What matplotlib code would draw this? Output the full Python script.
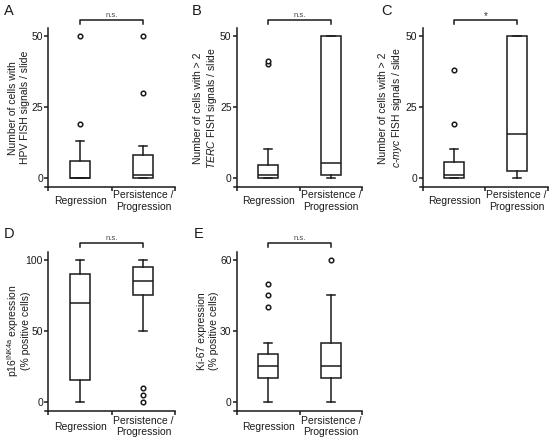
import matplotlib
matplotlib.use('Agg')
import matplotlib.pyplot as plt
import matplotlib.transforms as mtransforms

plt.rcParams['font.family'] = ['Liberation Sans', 'DejaVu Sans']
plt.rcParams['font.size'] = 7.5
plt.rcParams['mathtext.fontset'] = 'custom'
plt.rcParams['mathtext.rm'] = 'Liberation Sans'
plt.rcParams['mathtext.it'] = 'Liberation Sans:italic'

categories = ['Regression', 'Persistence /\nProgression']

# Panel A: HPV FISH
a_q1 = [0, 0]
a_med = [0, 1]
a_q3 = [6, 8]
a_lo = [0, 0]
a_hi = [13, 11]
a_fliers = [[19, 50], [30, 50]]

# Panel B: TERC
b_q1 = [0, 1]
b_med = [1, 5]
b_q3 = [4.5, 50]
b_lo = [0, 0]
b_hi = [10, 50]
b_fliers = [[40, 41], []]

# Panel C: c-myc
c_q1 = [0, 2.3]
c_med = [1, 15.5]
c_q3 = [5.5, 50]
c_lo = [0, 0]
c_hi = [10, 50]
c_fliers = [[19, 38], []]

# Panel D: p16INK4a
d_q1 = [15, 75]
d_med = [70, 85]
d_q3 = [90, 95]
d_lo = [0, 50]
d_hi = [100, 100]
d_fliers = [[], [0, 5, 10]]

# Panel E: Ki-67
e_q1 = [10, 10]
e_med = [15, 15]
e_q3 = [20, 25]
e_lo = [0, 0]
e_hi = [25, 45]
e_fliers = [[40, 45, 50], [60]]

sig_labels = ['n.s.', 'n.s.', '*', 'n.s.', 'n.s.']
yticks_list = [[0, 25, 50], [0, 25, 50], [0, 25, 50], [0, 50, 100], [0, 30, 60]]
ylabels = [
    'Number of cells with\nHPV FISH signals / slide',
    'Number of cells with > 2\n$\\it{TERC}$ FISH signals / slide',
    'Number of cells with > 2\n$\\it{c}$-$\\it{myc}$ FISH signals / slide',
    'p16$^{\\rm INK4a}$ expression\n(% positive cells)',
    'Ki-67 expression\n(% positive cells)',
]
panel_letters = ['A', 'B', 'C', 'D', 'E']

data = [
    (a_q1, a_med, a_q3, a_lo, a_hi, a_fliers),
    (b_q1, b_med, b_q3, b_lo, b_hi, b_fliers),
    (c_q1, c_med, c_q3, c_lo, c_hi, c_fliers),
    (d_q1, d_med, d_q3, d_lo, d_hi, d_fliers),
    (e_q1, e_med, e_q3, e_lo, e_hi, e_fliers),
]

W, H = 550, 440
# (left, right, top, bottom) in pixels
rects = [
    (45.3, 175, 28.3, 187.3),
    (234, 362, 28.3, 187.3),
    (419.7, 548, 28.3, 187.3),
    (45.3, 175, 251.7, 410.7),
    (234, 362, 251.7, 410.7),
]
ylims = [(-3.4, 52.7), (-3.4, 52.7), (-3.4, 52.7), (-6.35, 105.9), (-3.8, 63.5)]
letter_pos = [(4, 4), (192, 4), (381, 4), (4, 227), (194, 227)]
xpads = [10, 10, 10, 11.5, 11.5]
ylabelpads = [1, 1, 1, -4, 1]
ylinespacing = [1.2, 1.2, 1.2, 1.0, 1.2]

fig = plt.figure(figsize=(5.5, 4.4), dpi=100)
lw = 1.1
ink = '#1a1a1a'

for i in range(5):
    l, r, t, b = rects[i]
    ax = fig.add_axes([l / W, 1 - b / H, (r - l) / W, (b - t) / H])
    q1, med, q3, lo, hi, fl = data[i]
    stats = []
    for j in range(2):
        stats.append(dict(med=med[j], q1=q1[j], q3=q3[j], whislo=lo[j],
                          whishi=hi[j], fliers=fl[j], label=categories[j]))
    ax.bxp(stats, positions=[1, 2], widths=0.32, capwidths=0.13,
           patch_artist=True, manage_ticks=False,
           boxprops=dict(facecolor='white', edgecolor=ink, linewidth=lw),
           medianprops=dict(color=ink, linewidth=lw),
           whiskerprops=dict(color=ink, linewidth=lw),
           capprops=dict(color=ink, linewidth=lw),
           flierprops=dict(marker='o', markersize=3.3, markerfacecolor='white',
                           markeredgecolor=ink, markeredgewidth=1.1))
    ax.set_xlim(0.45, 2.5)
    ax.set_ylim(*ylims[i])
    for s in ['top', 'right']:
        ax.spines[s].set_visible(False)
    ax.spines['left'].set_position(('data', 0.5))
    for s in ['left', 'bottom']:
        ax.spines[s].set_linewidth(lw)
        ax.spines[s].set_color(ink)
    ax.set_yticks(yticks_list[i])
    ax.tick_params(axis='y', length=3, width=lw, pad=1, color=ink, labelcolor=ink)
    ax.set_xticks([1, 2])
    ax.set_xticklabels(categories, va='center', multialignment='center', color=ink)
    ax.tick_params(axis='x', which='major', length=0, pad=xpads[i])
    ax.set_xticks([0.5, 1.5, 2.5], minor=True)
    ax.tick_params(axis='x', which='minor', length=3, width=lw, color=ink, direction='out')
    ax.set_ylabel(ylabels[i], labelpad=ylabelpads[i], color=ink,
                  linespacing=ylinespacing[i])

    trans = mtransforms.blended_transform_factory(ax.transData, ax.transAxes)
    ax.plot([1, 1, 2, 2], [1.027, 1.052, 1.052, 1.027], transform=trans,
            clip_on=False, color=ink, lw=lw)
    if sig_labels[i] == '*':
        ax.text(1.5, 1.045, '*', transform=trans, ha='center', va='bottom',
                fontsize=7, color='#333333')
    else:
        ax.text(1.5, 1.072, sig_labels[i], transform=trans, ha='center',
                va='baseline', fontsize=5.5, color='#444444')

    lx, ly = letter_pos[i]
    fig.text(lx / W, 1 - ly / H, panel_letters[i], ha='left', va='top',
             fontsize=10.5, color=ink)

fig.savefig('out.png', dpi=100)
